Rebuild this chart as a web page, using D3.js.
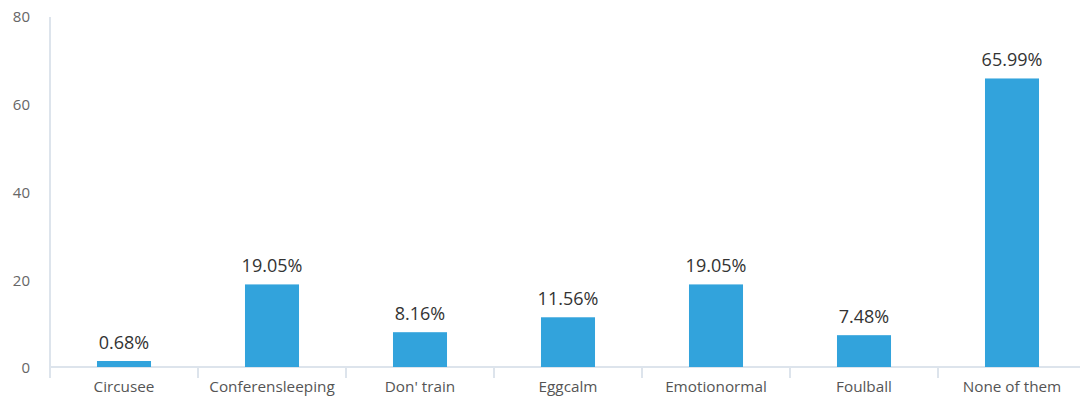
<!DOCTYPE html>
<html>
<head>
<meta charset="utf-8">
<script src="https://cdn.jsdelivr.net/npm/d3@7"></script>
<style>
  html, body { margin: 0; padding: 0; background: #fff; }
  svg { display: block; }
</style>
</head>
<body>
<svg id="chart" width="1080" height="398"></svg>
<script>
// Share of answers per option
const categories = ["Circusee", "Conferensleeping", "Don' train", "Eggcalm", "Emotionormal", "Foulball", "None of them"];
const values = [0.68, 19.05, 8.16, 11.56, 19.05, 7.48, 65.99];
const yTicks = [0, 20, 40, 60, 80];

(function () {
  const svg = d3.select("#chart");
  const plotLeft = 50, plotRight = 1086, plotTop = 17, plotBottom = 367;
  const font = "'Open Sans', 'DejaVu Sans', sans-serif";
  const axisColor = "#dde4ec";

  const x = d3.scaleBand().domain(categories).range([plotLeft, plotRight])
    .paddingInner(0.635).paddingOuter(0.3175);
  const y = d3.scaleLinear().domain([0, 80]).range([plotBottom + 1, plotTop]);

  // value axis: labels only, plus the vertical rule
  svg.append("line")
    .attr("x1", plotLeft).attr("x2", plotLeft)
    .attr("y1", plotTop).attr("y2", plotBottom)
    .attr("stroke", axisColor).attr("stroke-width", 2);

  svg.append("g").selectAll("text")
    .data(yTicks).join("text")
    .attr("x", 30).attr("y", d => y(d))
    .attr("dy", "0.36em")
    .attr("text-anchor", "end")
    .attr("font-family", font).attr("font-size", 15)
    .attr("fill", "#666")
    .text(d => d);

  // category axis with separators between bands
  svg.append("line")
    .attr("x1", plotLeft).attr("x2", plotRight)
    .attr("y1", plotBottom).attr("y2", plotBottom)
    .attr("stroke", axisColor).attr("stroke-width", 2);

  const step = x.step();
  const seps = d3.range(categories.length + 1).map(i => plotLeft + i * step);
  svg.append("g").selectAll("line")
    .data(seps).join("line")
    .attr("x1", d => d).attr("x2", d => d)
    .attr("y1", plotBottom).attr("y2", plotBottom + 11)
    .attr("stroke", axisColor).attr("stroke-width", 2);

  svg.append("g").selectAll("text")
    .data(categories).join("text")
    .attr("x", d => x(d) + x.bandwidth() / 2)
    .attr("y", 392)
    .attr("text-anchor", "middle")
    .attr("font-family", font).attr("font-size", 15.3)
    .attr("fill", "#555")
    .text(d => d);

  // bars
  const minH = 6;
  const bars = categories.map((c, i) => ({ c, v: values[i] }));
  svg.append("g").selectAll("rect")
    .data(bars).join("rect")
    .attr("x", d => x(d.c))
    .attr("width", x.bandwidth())
    .attr("y", d => Math.min(y(d.v), plotBottom - minH))
    .attr("height", d => Math.max(plotBottom - y(d.v), minH))
    .attr("fill", "#32a3dc");

  // value labels
  svg.append("g").selectAll("text")
    .data(bars).join("text")
    .attr("x", d => x(d.c) + x.bandwidth() / 2)
    .attr("y", d => Math.min(y(d.v), plotBottom - minH) - 12)
    .attr("text-anchor", "middle")
    .attr("font-family", font).attr("font-size", 18)
    .attr("fill", "#333")
    .text(d => d.v.toFixed(2) + "%");
})();
</script>
</body>
</html>
